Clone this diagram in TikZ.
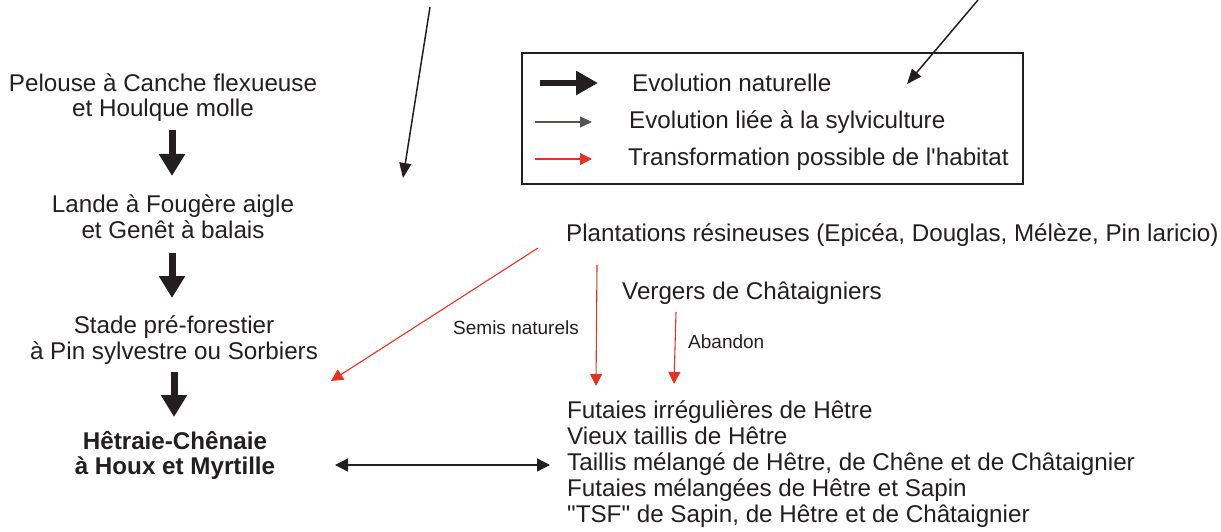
\documentclass[tikz,border=0pt]{standalone}
\usepackage{fontspec}
\setmainfont{Liberation Sans}[Ligatures=TeXOff]
\usetikzlibrary{arrows.meta}
\definecolor{ink}{HTML}{231F20}
\definecolor{redA}{HTML}{E53222}
\definecolor{grayA}{HTML}{55554F}
\begin{document}
\begin{tikzpicture}[x=1pt,y=-1pt,
  txt/.style={inner sep=0pt, text=ink, font=\fontsize{24.2}{25.5}\selectfont},
  ctxt/.style={txt, align=center},
  ltxt/.style={txt, align=left, font=\fontsize{24.2}{26}\selectfont},
  smalltxt/.style={inner sep=0pt, text=ink, font=\fontsize{19}{22}\selectfont},
  nat/.style={draw=ink, line width=7pt, -{Triangle[width=25pt,length=22pt]}},
  natleg/.style={draw=ink, line width=5.5pt, -{Triangle[width=23pt,length=22pt]}},
  sylv/.style={draw=grayA, line width=1.1pt, -{Triangle[width=11pt,length=12pt]}},
  transf/.style={draw=redA, line width=1.1pt, -{Triangle[width=12pt,length=12pt]}},
  pointer/.style={draw=ink, line width=1.5pt, -{Triangle[width=12pt,length=15pt]}},
  dbl/.style={draw=ink, line width=1.2pt, {Triangle[width=13pt,length=13pt]}-{Triangle[width=13pt,length=13pt]}},
  legbox/.style={draw=ink, line width=2pt}
]
\useasboundingbox (0,0) rectangle (1221,532);

% left column
\node[ctxt] (pelouse) at (163,97.5) {Pelouse à Canche flexueuse\\et Houlque molle};
\node[ctxt] (lande) at (173,216.5) {Lande à Fougère aigle\\et Genêt à balais};
\node[ctxt] (stade) at (174,340) {Stade pré-forestier\\à Pin sylvestre ou Sorbiers};
\node[ctxt, font=\fontsize{24.2}{25.5}\selectfont\bfseries] (hetraie) at (175,455.5) {Hêtraie-Chênaie\\à Houx et Myrtille};

% right texts
\node[txt, anchor=west] (plant) at (566,235) {Plantations résineuses (Epicéa, Douglas, Mélèze, Pin laricio)};
\node[txt, anchor=west] (vergers) at (622,293) {Vergers de Châtaigniers};
\node[smalltxt, anchor=west] (semis) at (453,328) {Semis naturels};
\node[smalltxt, anchor=west] (abandon) at (688,342) {Abandon};
\node[ltxt, anchor=west] (forest) at (567,464) {Futaies irrégulières de Hêtre\\Vieux taillis de Hêtre\\Taillis mélangé de Hêtre, de Chêne et de Châtaignier\\Futaies mélangées de Hêtre et Sapin\\"TSF" de Sapin, de Hêtre et de Châtaignier};

% legend
\node[legbox, inner sep=0pt, minimum width=501pt, minimum height=131pt, anchor=north west] (legend) at (521,52) {};
\node[txt, anchor=west] (lnat) at (632,83) {Evolution naturelle};
\node[txt, anchor=west] (lsylv) at (629,122) {Evolution liée à la sylviculture};
\node[txt, anchor=west] (ltransf) at (628,159) {Transformation possible de l'habitat};
\coordinate (k1a) at (540,83);  \coordinate (k1b) at (598,83);
\coordinate (k2a) at (535,122); \coordinate (k2b) at (592,122);
\coordinate (k3a) at (535,159); \coordinate (k3b) at (592,159);
\draw[natleg] (k1a) -- (k1b);
\draw[sylv] (k2a) -- (k2b);
\draw[transf] (k3a) -- (k3b);

% natural evolution arrows
\coordinate (n1a) at (172,130); \coordinate (n1b) at (172,176);
\coordinate (n2a) at (172,253); \coordinate (n2b) at (172,298);
\coordinate (n3a) at (174,372); \coordinate (n3b) at (174,417);
\draw[nat] (n1a) -- (n1b);
\draw[nat] (n2a) -- (n2b);
\draw[nat] (n3a) -- (n3b);

% pointers from top
\coordinate (p1a) at (430,7);  \coordinate (p1b) at (403,178);
\coordinate (p2a) at (978,0);  \coordinate (p2b) at (907,84);
\draw[pointer] (p1a) -- (p1b);
\draw[pointer] (p2a) -- (p2b);

% transformations
\coordinate (r1a) at (538,248); \coordinate (r1b) at (331,381);
\coordinate (r2a) at (597,265); \coordinate (r2b) at (596,386);
\coordinate (r3a) at (676,312); \coordinate (r3b) at (674,384);
\draw[transf] (r1a) -- (r1b);
\draw[transf] (r2a) -- (r2b);
\draw[transf] (r3a) -- (r3b);

% double arrow
\coordinate (d1) at (335,465); \coordinate (d2) at (550,465);
\draw[dbl] (d1) -- (d2);
\end{tikzpicture}
\end{document}
